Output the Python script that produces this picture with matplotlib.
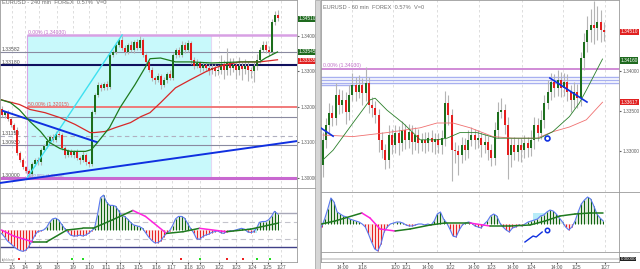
import numpy as np
import matplotlib
matplotlib.use('Agg')
import matplotlib.pyplot as plt
from matplotlib.patches import Rectangle
from matplotlib.lines import Line2D
import matplotlib.transforms as mtrans

plt.rcParams['font.family'] = ['Liberation Sans', 'DejaVu Sans']

# ---------------- DATA : left 240 min ----------------
L_open0 = 1.3195
L_close = [1.3178, 1.3185, 1.3165, 1.3150, 1.3135, 1.3070, 1.3050, 1.3030, 1.3020, 1.3012,
           1.3040, 1.3050, 1.3044, 1.3080, 1.3090, 1.3105, 1.3115, 1.3108, 1.3125, 1.3121,
           1.3085, 1.3065, 1.3075, 1.3065, 1.3073, 1.3056, 1.3050, 1.3065, 1.3045, 1.3040,
           1.3186, 1.3234, 1.3262, 1.3254, 1.3265, 1.3255, 1.3346, 1.3355, 1.3375, 1.3389,
           1.3366, 1.3355, 1.3375, 1.3361, 1.3383, 1.3366, 1.3389, 1.3346, 1.3327, 1.3304,
           1.3282, 1.3276, 1.3287, 1.3262, 1.3276, 1.3293, 1.3282, 1.3346, 1.3361, 1.3346,
           1.3375, 1.3361, 1.3380, 1.3332, 1.3315, 1.3324, 1.3310, 1.3318, 1.3310, 1.3304,
           1.3310, 1.3301, 1.3304, 1.3321, 1.3304, 1.3327, 1.3310, 1.3318, 1.3304, 1.3315,
           1.3307, 1.3315, 1.3304, 1.3301, 1.3315, 1.3332, 1.3361, 1.3375, 1.3361, 1.3355,
           1.3439, 1.3459, 1.3451]
L_wick_up = [8, 5, 6, 5, 6, 8, 5, 6, 5, 4, 5, 6, 8, 5, 6, 5, 6, 8, 6, 8,
             6, 5, 8, 6, 5, 8, 6, 10, 6, 5, 5, 6, 8, 6, 5, 8, 5, 6, 8, 6,
             12, 8, 6, 10, 6, 8, 10, 6, 5, 6, 8, 6, 10, 6, 8, 6, 10, 5, 6, 8,
             10, 8, 10, 6, 8, 10, 6, 10, 8, 10, 12, 10, 15, 25, 10, 40, 12, 20, 10, 25,
             12, 20, 15, 10, 12, 18, 8, 10, 12, 10, 8, 12, 15]
L_wick_dn = [6, 8, 5, 6, 8, 5, 6, 5, 6, 8, 6, 5, 6, 8, 5, 6, 5, 6, 8, 6,
             5, 8, 6, 5, 8, 6, 10, 6, 8, 10, 6, 5, 6, 8, 5, 6, 5, 6, 5, 6,
             6, 8, 6, 5, 8, 6, 5, 6, 8, 6, 8, 10, 6, 12, 6, 8, 6, 5, 8, 6,
             6, 8, 6, 10, 8, 6, 12, 8, 10, 15, 10, 15, 12, 10, 25, 15, 20, 12, 25, 15,
             30, 15, 30, 20, 30, 12, 8, 6, 10, 12, 6, 8, 10]
L_ma_fast_bar = [0, 3, 6, 9.5, 13, 16, 19.5, 23, 28, 30, 32, 36, 39.5, 44.5, 48, 49.5, 53, 58, 63, 70, 80, 86, 88, 92]
L_ma_fast = [1.3220, 1.3212, 1.3192, 1.3159, 1.3131, 1.3100, 1.3083, 1.3075, 1.3075, 1.3080, 1.3100, 1.3142,
             1.3198, 1.3263, 1.3313, 1.3336, 1.3338, 1.3327, 1.3327, 1.3324, 1.3327, 1.3327, 1.3338, 1.3355]
L_ma_slow_bar = [0, 6, 9.5, 14.5, 19.5, 24.5, 29.5, 31, 34.5, 38, 43, 46.5, 49.5, 53, 58, 63, 68, 71, 74.5, 79.5, 86, 92]
L_ma_slow = [1.3220, 1.3207, 1.3193, 1.3184, 1.3170, 1.3151, 1.3128, 1.3128, 1.3131, 1.3142, 1.3156,
             1.3173, 1.3184, 1.3212, 1.3254, 1.3277, 1.3299, 1.3310, 1.3319, 1.3327, 1.3327, 1.3333]
L_hist = [-0.4, -0.8, -1.3, -1.6, -1.9, -2.2, -2.4, -2.5, -2.4, -2.0,
          -1.4, -0.7, -0.2, -0.1, 0.0, 0.3, 0.9, 1.3, 1.4, 1.2,
          0.7, 0.2, -0.2, -0.6, -0.7, -0.7, -0.6, -0.7, -0.6, -0.4,
          -0.1, 0.2, 1.8, 3.8, 4.1, 3.3, 2.9, 2.9, 2.8, 2.3,
          1.7, 1.6, 1.3, 0.9, 0.6, 0.5, 0.4, 0.2, -0.3, -0.8,
          -1.2, -1.5, -1.5, -1.3, -0.8, -0.4, -0.1, 0.5, 1.3, 1.6,
          1.6, 1.4, 0.8, 0.2, -0.3, -1.0, -1.1, -0.8, -0.6, -0.5,
          -0.3, -0.2, -0.1, -0.3, -0.4, -0.2, -0.1, -0.1, 0.0, 0.1,
          0.2, 0.1, -0.2, -0.3, -0.2, 0.2, 0.9, 1.0, 1.0, 1.2,
          1.6, 2.2, 1.9]
L_sig_bar = [0, 4, 10.5, 15, 21.8, 27, 30.5, 37, 43.8, 48, 55, 60.5, 66, 75, 83, 92]
L_sig = [0.0, -0.7, -1.4, -1.4, 0.0, 0.2, 0.2, 1.2, 2.3, 1.6, -0.4, -0.2, 0.2, -0.2, 0.1, 0.8]
L_dates = ['1/3', '1/4', '1/6', '1/8', '1/9', '1/10', '1/11', '1/13', '1/15', '1/16', '1/17', '1/18',
           '1/20', '1/22', '1/23', '1/24', '1/25', '1/27']
L_date_bar = [3.5, 7.8, 12.5, 18.5, 23.8, 29.2, 34.8, 39.5, 45.8, 51.5, 56.8, 62.2, 66.2, 72.5, 78.2, 83.5, 88.8, 93.2]
L_dot_bar = [5.8, 23.5, 27.2, 59.8, 66.2, 75.2, 80.5, 85.2, 89.5]
L_dot_col = ['r', 'g', 'g', 'r', 'g', 'r', 'r', 'g', 'g']
L_yticks = [1.34, 1.33, 1.32, 1.31, 1.30]

# ---------------- DATA : right 60 min ----------------
R_open0 = 1.3283
R_close = [1.3314, 1.3333, 1.3348, 1.3341, 1.3370, 1.3358, 1.3364, 1.3349, 1.3370, 1.3383,
           1.3374, 1.3383, 1.3373, 1.3385, 1.3358, 1.3354, 1.3345, 1.3314, 1.3301, 1.3289,
           1.3320, 1.3308, 1.3323, 1.3310, 1.3326, 1.3314, 1.3324, 1.3311, 1.3320, 1.3310,
           1.3314, 1.3310, 1.3316, 1.3311, 1.3315, 1.3308, 1.3316, 1.3360, 1.3345, 1.3301,
           1.3300, 1.3295, 1.3308, 1.3301, 1.3314, 1.3320, 1.3314, 1.3316, 1.3308, 1.3311,
           1.3301, 1.3291, 1.3326, 1.3349, 1.3351, 1.3333, 1.3295, 1.3308, 1.3299, 1.3308,
           1.3301, 1.3310, 1.3304, 1.3314, 1.3333, 1.3323, 1.3339, 1.3360, 1.3374, 1.3386,
           1.3379, 1.3389, 1.3379, 1.3386, 1.3374, 1.3364, 1.3374, 1.3366, 1.3416, 1.3436,
           1.3451, 1.3458, 1.3454, 1.3461, 1.3451, 1.3449]
R_wick_up = [10, 8, 12, 10, 15, 8, 12, 10, 12, 15, 10, 12, 8, 20, 8, 10, 8, 8, 10, 8,
             12, 8, 10, 8, 12, 8, 10, 8, 10, 8, 8, 10, 8, 10, 8, 8, 10, 15, 10, 8,
             10, 8, 10, 8, 12, 10, 8, 10, 8, 10, 8, 8, 10, 12, 15, 8, 10, 8, 10, 8,
             8, 10, 8, 12, 10, 8, 12, 10, 15, 12, 10, 12, 10, 12, 10, 8, 12, 10, 8, 12,
             18, 20, 30, 20, 15, 10]
R_wick_dn = [15, 10, 12, 10, 8, 12, 10, 15, 10, 8, 12, 8, 15, 10, 10, 12, 10, 15, 10, 12,
             10, 12, 10, 15, 10, 12, 10, 15, 10, 12, 10, 12, 10, 12, 15, 10, 12, 10, 12, 38,
             15, 25, 10, 12, 10, 8, 12, 10, 15, 10, 12, 10, 8, 10, 8, 12, 30, 15, 10, 12,
             15, 10, 12, 10, 12, 10, 8, 10, 8, 10, 12, 10, 12, 10, 12, 15, 10, 12, 10, 15,
             12, 15, 20, 15, 15, 12]
R_ma_fast_bar = [0.15, 3.2, 9.2, 14.4, 15.9, 19.5, 24.3, 27.3, 29.5, 34.6, 37.6, 41.5, 46.7, 52.6, 59.5,
                 65.6, 69.5, 74.6, 77.6, 79.7, 84.6]
R_ma_fast = [1.3289, 1.3301, 1.3335, 1.3364, 1.3366, 1.3351, 1.3335, 1.3323, 1.3314, 1.3314, 1.3316,
             1.3323, 1.3323, 1.3316, 1.3316, 1.3316, 1.3324, 1.3343, 1.3360, 1.3376, 1.3415]
R_ma_slow_bar = [0.15, 9.2, 19.5, 29.5, 34.6, 39.4, 44.6, 51.5, 57.6, 64.8, 69.5, 74.6, 79.7, 84.6]
R_ma_slow = [1.3320, 1.3318, 1.3323, 1.3329, 1.3335, 1.3335, 1.3329, 1.3318, 1.3316, 1.3316, 1.3324,
             1.3330, 1.3339, 1.3361]
R_hist = [-3, 5, 15, 26, 22, 12, 10, 8, 7, 5, 4, 3, 2, 0, -3, -10, -18, -25, -27, -20,
          -8, -3, 0, 1, 2, 2, 1, -1, -2, -2, -1, 0, 0, -1, 0, -1, 3, 10, 12, 5,
          1, -5, -12, -13, -6, -1, 1, 2, 1, -2, -3, -4, 0, 3, 8, 10, 8, 1, -3, -6,
          -8, -4, -3, -1, -2, 0, 2, 3, 4, 5, 8, 9, 12, 14, 13, 10, 6, 2, -3, -6,
          -3, 3, 12, 20, 24, 27, 25, 18, 10, 6, 3]
R_sig_bar = [0, 4.3, 12.9, 15.5, 18.7, 23.5, 28.3, 34.7, 39.5, 47.4, 53.8, 60.2, 66.6, 71.4, 76.2, 81.0, 85.8, 90]
R_sig = [0, 3, 11, 6, -5, -7, -5, -1, 1, 1, -2, -2, -1, 3, 8, 10, 11, 11]
R_dates = ['14:00', '1/18', '1/20', '1/21', '14:00', '1/22', '14:00', '1/23', '14:00', '1/24', '14:00', '1/25', '1/27']
R_date_px = [343, 362, 395, 406, 428, 450, 474, 491, 513, 531, 557, 576, 605]
R_grid_px = [352, 393, 437, 479, 522, 563, 605]
R_yticks = [1.340, 1.335, 1.330]

# ---------------- LAYOUT ----------------
W, H = 640, 269
fig = plt.figure(figsize=(6.4, 2.69), dpi=100)
fig.patch.set_facecolor('white')
FS = 3.4
FT = 4.1
GREEN = '#1c6e1c'
RED = '#e41e1e'
WICK = '#b4b4b4'


def add_ax(x0, y0, x1, y1):
    a = fig.add_axes([x0 / W, 1 - y1 / H, (x1 - x0) / W, (y1 - y0) / H])
    a.set_facecolor('white')
    for s in a.spines.values():
        s.set_color('#9a9a9a')
        s.set_linewidth(0.6)
    a.tick_params(length=0, labelsize=FS, colors='#505050', pad=1)
    a.set_xticks([])
    a.set_yticks([])
    return a


def lx(i):
    return 1.5 + 3.0 * np.asarray(i, dtype=float)


def rx(j):
    return 322.5 + 3.31 * np.asarray(j, dtype=float)


def rk(k):
    return 321.5 + 3.13 * np.asarray(k, dtype=float)


def draw_candles(ax, xs, open0, closes, up, dn, width):
    c = np.array(closes)
    o = np.concatenate([[open0], c[:-1]])
    top = np.maximum(o, c)
    bot = np.minimum(o, c)
    hi = top + np.array(up) * 1e-4
    lo = bot - np.array(dn) * 1e-4
    ax.vlines(xs, lo, hi, color=WICK, lw=0.8, zorder=3)
    cols = [GREEN if cc >= oo else RED for oo, cc in zip(o, c)]
    ax.bar(xs, np.maximum(top - bot, 0.00012), width, bot, color=cols, lw=0, zorder=4)


def draw_signal(ax, xs, vals, lw=1.1):
    for a in range(len(xs) - 1):
        col = '#1f7a1f' if vals[a + 1] >= vals[a] else '#ff22dd'
        ax.plot(xs[a:a + 2], vals[a:a + 2], color=col, lw=lw, zorder=6, solid_capstyle='round')


def draw_hist(ax, xs, h):
    h = np.array(h, dtype=float)
    ax.fill_between(xs, 0, h, where=h >= 0, color='#dfe8dc', lw=0, interpolate=True, zorder=1)
    ax.fill_between(xs, 0, h, where=h < 0, color='#fbe0e0', lw=0, interpolate=True, zorder=1)
    cols = ['#0c620c' if v >= 0 else '#e82020' for v in h]
    ax.vlines(xs, 0, h, colors=cols, lw=0.7, zorder=2)
    ax.plot(xs, h, color='#5a78f0', lw=0.8, zorder=3)


# ================= LEFT PRICE =================
axL = add_ax(0, 0, 297, 188)
axL.set_xlim(0, 297)
axL.set_ylim(1.29718, 1.35014)
for b in L_date_bar:
    axL.axvline(lx(b), color='#d8d8d8', lw=0.6, ls=(0, (3, 3)), zorder=0)
box_x0, box_x1 = lx(8.5), lx(69.8)
axL.add_patch(Rectangle((box_x0, 1.3000), box_x1 - box_x0, 0.0403, fc='#c8f9fb', ec='none', zorder=0.5))
axL.vlines([box_x0], 1.3000, 1.3403, color='#d8a8e8', lw=0.8, zorder=1)
axL.vlines([box_x1], 1.3000, 1.3403, color='#e4d8f4', lw=0.8, zorder=1)
axL.hlines(1.3403, box_x0, 297, color='#d8a0e4', lw=1.8, zorder=2)
axL.hlines(1.3000, 0, 297, color='#c868d0', lw=2.2, zorder=2)
axL.hlines(1.3200, box_x0, 297, color='#f07070', lw=1.3, zorder=2)
for lvl in (1.3355, 1.3172, 1.3093):
    axL.axhline(lvl, color='#8a8aa0', lw=0.8, zorder=2)
axL.axhline(1.3118, color='#b0b0c0', lw=0.8, ls=(0, (4, 3)), zorder=2)
axL.axhline(1.3318, color='#10105e', lw=1.5, zorder=2)
axL.plot([box_x0, lx(40.2)], [1.3000, 1.3403], color='#3ee0f0', lw=1.0, zorder=5)
axL.plot([lx(-0.5), 297], [1.2986, 1.3104], color='#1030e0', lw=1.4, zorder=5)
axL.plot([lx(0.5), lx(31.8)], [1.3189, 1.3101], color='#1030e0', lw=1.4, zorder=5)
draw_candles(axL, lx(np.arange(len(L_close))), L_open0, L_close, L_wick_up, L_wick_dn, 2.0)
axL.plot(lx(L_ma_slow_bar), L_ma_slow, color='#d82828', lw=0.9, zorder=6)
axL.plot(lx(L_ma_fast_bar), L_ma_fast, color='#1e7a1e', lw=0.9, zorder=6)
axL.yaxis.tick_right()
axL.set_yticks(L_yticks)
axL.set_yticklabels(['%.5f' % v for v in L_yticks])
axL.tick_params(axis='y', length=1.5, colors='#606060', labelsize=FS, pad=0.8)
tL = mtrans.blended_transform_factory(axL.transAxes, axL.transData)
for val, txt, fc in [(1.3448, '1.34510', '#1e6a1e'), (1.3355, '1.33545', '#1e6a1e'), (1.3330, '1.33335', '#e02020')]:
    axL.text(1.005, val, txt, transform=tL, fontsize=FS, color='white', va='center', ha='left',
             bbox=dict(boxstyle='square,pad=0.15', fc=fc, ec='none'), clip_on=False, zorder=10)
axL.text(box_x0 + 1, 1.3404, '0.00% (1.34030)', fontsize=3.7, color='#c070c8', va='bottom')
axL.text(box_x0 + 1, 1.3201, '50.00% (1.32015)', fontsize=3.7, color='#e05050', va='bottom')
axL.text(box_x0 + 2, 1.3001, '100.00% (1.30000)', fontsize=3.0, color='#b070c0', va='bottom')
for val, txt in [(1.3356, '1.33582'), (1.3319, '1.33180'), (1.3119, '1.31153'), (1.3094, '1.30930'), (1.3001, '1.30000')]:
    axL.text(2, val, txt, fontsize=3.7, color='#505050', va='bottom')
axL.text(2, 1.3488, 'EURUSD - 240 min  FOREX  0.57%  V=0', fontsize=FT, color='#707070', va='bottom')

# ================= LEFT OSC =================
axLo = add_ax(0, 188, 297, 262)
axLo.set_xlim(0, 297)
axLo.set_ylim(-3.76, 4.94)
for b in L_date_bar:
    axLo.axvline(lx(b), color='#d8d8d8', lw=0.6, ls=(0, (3, 3)), zorder=0)
axLo.axhline(2.0, color='#a8a8b8', lw=1.0, zorder=0.5)
axLo.axhline(0.95, color='#c4c4cc', lw=0.8, ls=(0, (5, 3)), zorder=0.5)
axLo.axhline(-1.05, color='#c4c4cc', lw=0.8, ls=(0, (5, 3)), zorder=0.5)
axLo.axhline(-2.0, color='#404088', lw=1.0, zorder=0.5)
axLo.add_patch(Rectangle((lx(81.8), -0.35), lx(85.2) - lx(81.8), 0.6, fc='#b8ecf8', ec='none', zorder=0.6))
xsL = lx(np.arange(len(L_hist)))
draw_hist(axLo, xsL, L_hist)
draw_signal(axLo, lx(L_sig_bar), L_sig)
for b, c in zip(L_dot_bar, L_dot_col):
    axLo.plot(lx(b), -3.41, 's', ms=1.5, color='#ee2020' if c == 'r' else '#22dd22', mew=0, zorder=7)
axLo.text(2, -3.5, 'lkjhklasd', fontsize=2.5, color='#909090', va='center')
axLo.set_xticks(lx(L_date_bar))
axLo.set_xticklabels(L_dates)
axLo.tick_params(axis='x', length=1.5, labelsize=3.5, colors='#505050', pad=0.5)

# ================= RIGHT PRICE =================
axR = add_ax(321, 0, 619, 192)
axR.set_xlim(321, 619)
axR.set_ylim(1.324875, 1.348875)
for g in R_grid_px:
    axR.axvline(g, color='#d8d8d8', lw=0.6, ls=(0, (3, 3)), zorder=0)
axR.axhline(1.34025, color='#c878d0', lw=1.2, zorder=2)
for lvl in (1.33925, 1.33888, 1.3385):
    axR.axhline(lvl, color='#a8b0f0', lw=1.0, zorder=2)
axR.hlines(1.33825, 321, 355, color='#a8b0f0', lw=1.0, zorder=2)
draw_candles(axR, rx(np.arange(len(R_close))), R_open0, R_close, R_wick_up, R_wick_dn, 2.0)
axR.plot(rx(R_ma_slow_bar), R_ma_slow, color='#f07070', lw=0.6, zorder=6)
axR.plot(rx(R_ma_fast_bar), R_ma_fast, color='#2a7f2a', lw=0.6, zorder=6)
axR.plot(rx([-0.75, 3.2]), [1.33295, 1.33185], color='#1030e0', lw=1.2, zorder=7)
axR.plot(rx([68.7, 79.9]), [1.33912, 1.33612], color='#1030e0', lw=1.2, zorder=7)
axR.plot(rx(67.8), 1.33162, 'o', ms=3.5, mfc='none', mec='#1030e0', mew=1.2, zorder=8)
axR.yaxis.tick_right()
axR.set_yticks(R_yticks)
axR.set_yticklabels(['%.5f' % v for v in R_yticks])
axR.tick_params(axis='y', length=1.5, colors='#606060', labelsize=FS, pad=0.8)
tR = mtrans.blended_transform_factory(axR.transAxes, axR.transData)
for val, txt, fc in [(1.3449, '1.34510', '#e02020'), (1.3413, '1.34160', '#1e6a1e'), (1.3361, '1.33617', '#e02020')]:
    axR.text(1.005, val, txt, transform=tR, fontsize=FS, color='white', va='center', ha='left',
             bbox=dict(boxstyle='square,pad=0.15', fc=fc, ec='none'), clip_on=False, zorder=10)
axR.text(323, 1.34035, '0.00% (1.34030)', fontsize=3.7, color='#c070c8', va='bottom')
axR.text(323, 1.3476, 'EURUSD - 60 min  FOREX  0.57%  V=0', fontsize=FT, color='#707070', va='bottom')

# ================= RIGHT OSC =================
axRo = add_ax(321, 192, 619, 252)
axRo.set_xlim(321, 619)
axRo.set_ylim(-28, 32)
for g in R_grid_px:
    axRo.axvline(g, color='#d8d8d8', lw=0.6, ls=(0, (3, 3)), zorder=0)
axRo.add_patch(Rectangle((rk(67.6), 0), rk(73.0) - rk(67.6), 11, fc='#b8ecf8', ec='none', zorder=0.6))
draw_hist(axRo, rk(np.arange(len(R_hist))), R_hist)
draw_signal(axRo, rk(R_sig_bar), R_sig)
axRo.plot(rk([65.0, 67.6, 68.6, 70.5]), [-18, -12, -13, -8], color='#1030e0', lw=1.0, zorder=8)
axRo.plot(rk(72.0), -6, 'o', ms=3.2, mfc='none', mec='#1030e0', mew=1.1, zorder=8)

axRv = add_ax(321, 252, 619, 262)
axRv.set_xlim(321, 619)
axRv.set_ylim(0, 1)
axRv.axhline(0.35, color='#d0d0d0', lw=1.2)
axRv.set_xticks(R_date_px)
axRv.set_xticklabels(R_dates)
axRv.tick_params(axis='x', length=1.5, labelsize=3.5, colors='#505050', pad=0.5)
axRv.text(1.005, 0.3, '0.00000', transform=axRv.transAxes, fontsize=3.2, color='white', va='center',
          bbox=dict(boxstyle='square,pad=0.1', fc='#202020', ec='none'), clip_on=False)

# separators
fig.patches.append(Rectangle((315 / W, 0), 5 / W, 1, transform=fig.transFigure, fc='#d6d6d6', ec='#a0a0a0', lw=0.5))
fig.lines.append(Line2D([297 / W, 315 / W], [1 - 188 / H] * 2, transform=fig.transFigure, color='#9a9a9a', lw=0.6))
fig.lines.append(Line2D([619 / W, 1], [1 - 192 / H] * 2, transform=fig.transFigure, color='#9a9a9a', lw=0.6))
fig.lines.append(Line2D([619 / W, 1], [1 - 252 / H] * 2, transform=fig.transFigure, color='#9a9a9a', lw=0.6))

fig.savefig('out.png', dpi=100, facecolor='white')
